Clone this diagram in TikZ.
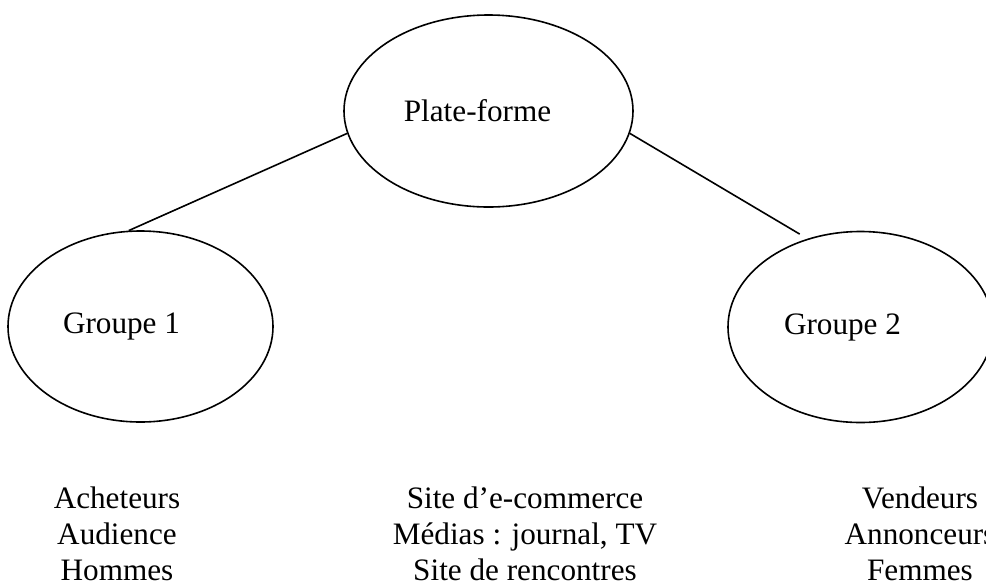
\documentclass[tikz,border=0pt]{standalone}
\usepackage{fontspec}
\setmainfont{Liberation Serif}
\usepackage{tikz}
\usetikzlibrary{positioning,shapes.geometric}
\tikzset{
  bulle/.style={draw,ellipse,line width=0.8pt,inner sep=0pt,minimum width=144.5pt,minimum height=96pt},
  lien/.style={line width=0.8pt},
  liste/.style={align=center,inner sep=0pt,anchor=north},
}

\begin{document}
\begin{tikzpicture}[x=0.5pt,y=-0.5pt,font=\fontsize{15.6}{18.2}\selectfont]
\useasboundingbox (0,0) rectangle (986,585);
\node[bulle, label={[xshift=-5.5pt]center:Plate-forme}] (plat) at (488.5,111) {};
\node[bulle, minimum width=132.5pt, minimum height=95.5pt, label={[xshift=-9.5pt]center:Groupe 1}] (g1) at (140.5,326.5) {};
\node[bulle, minimum width=132.5pt, minimum height=95.5pt, label={[xshift=-9pt]center:Groupe 2}] (g2) at (860.5,327) {};
\draw[lien] (plat.189.5) -- (g1.97);
\draw[lien, shorten >=4.5pt] (plat.-9.5) -- (g2.121);
% exemples sous chaque groupe
\node[liste] (ex1) at (117,486) {Acheteurs\\Audience\\Hommes};
\node[liste] (ex2) at (525,486) {Site d’e-commerce\\Médias : journal, TV\\Site de rencontres};
\node[liste] (ex3) at (920,486) {Vendeurs\\Annonceurs\\Femmes};
\end{tikzpicture}
\end{document}
